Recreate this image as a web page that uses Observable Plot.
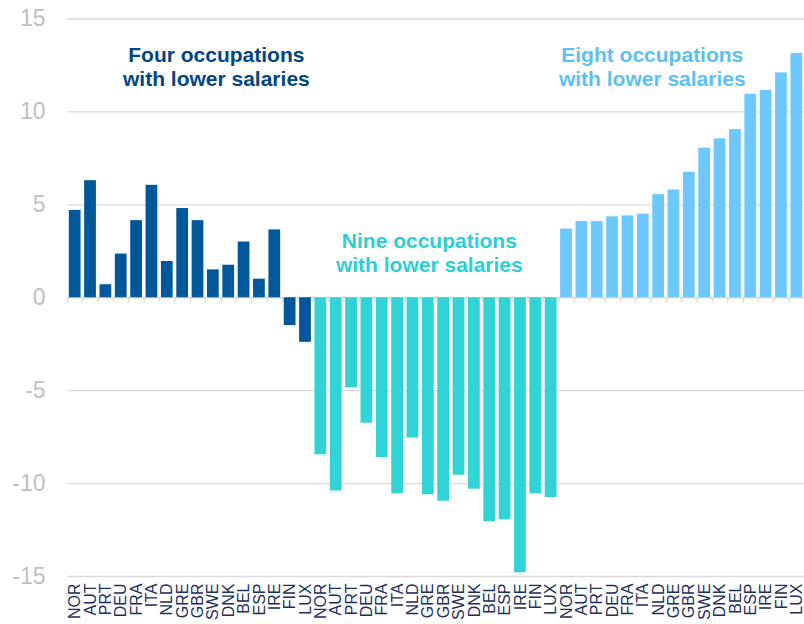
<!DOCTYPE html>
<html>
<head>
<meta charset="utf-8">
<script src="https://cdn.jsdelivr.net/npm/d3@7"></script>
<script src="https://cdn.jsdelivr.net/npm/@observablehq/plot@0.6"></script>
<style>
  html, body { margin: 0; padding: 0; background: #ffffff; }
</style>
</head>
<body>
<div id="chart"></div>
<script>
const countries = ["NOR","AUT","PRT","DEU","FRA","ITA","NLD","GRE","GBR","SWE","DNK","BEL","ESP","IRE","FIN","LUX"];
const groups = ["Four occupations", "Nine occupations", "Eight occupations"];
const fourValues  = [4.7, 6.3, 0.7, 2.35, 4.15, 6.05, 1.95, 4.8, 4.15, 1.5, 1.75, 3.0, 1.0, 3.65, -1.5, -2.4];
const nineValues  = [-8.45, -10.4, -4.85, -6.75, -8.6, -10.55, -7.55, -10.6, -10.95, -9.55, -10.3, -12.05, -11.95, -14.8, -10.55, -10.75];
const eightValues = [3.7, 4.1, 4.1, 4.35, 4.4, 4.5, 5.55, 5.8, 6.75, 8.05, 8.55, 9.05, 10.95, 11.15, 12.1, 13.15];
const yTicks = [-15, -10, -5, 0, 5, 10, 15];
const annotationTexts = [
  "Four occupations\nwith lower salaries",
  "Nine occupations\nwith lower salaries",
  "Eight occupations\nwith lower salaries"
];
const colors = ["#00589a", "#30d3d6", "#6cc8fe"];
const textColors = ["#004684", "#2ccfd3", "#5cc0f7"];

const series = [fourValues, nineValues, eightValues];
const rows = groups.flatMap((g, gi) => countries.map((c, ci) => ({
  key: `${gi}-${c}`, country: c, group: g, value: series[gi][ci]
})));
const keys = rows.map(d => d.key);

const W = 804, H = 624, ML = 67, MR = 0, MT = 18.5, MB = 48;
const step = (W - ML - MR) / keys.length;
const font = "'Liberation Sans', Arial, Helvetica, sans-serif";

const chart = Plot.plot({
  width: W, height: H,
  marginLeft: ML, marginRight: MR, marginTop: MT, marginBottom: MB,
  style: { fontFamily: font, background: "#ffffff", overflow: "visible" },
  x: { domain: keys, padding: 0, round: false, axis: null },
  y: { domain: [-15, 15], axis: null },
  color: { domain: groups, range: colors },
  marks: [
    Plot.gridY(yTicks, { stroke: "#d9d9d9", strokeOpacity: 1, strokeWidth: 1.3 }),
    Plot.ruleX(keys, { x: d => d, dx: -step / 2, y1: 0, y2: -0.28, stroke: "#d9d9d9", strokeWidth: 1.3 }),
    Plot.ruleX([keys[keys.length - 1]], { x: d => d, dx: step / 2, y1: 0, y2: -0.28, stroke: "#d9d9d9", strokeWidth: 1.3 }),
    Plot.barY(rows, { x: "key", y: "value", fill: "group", insetLeft: 1.8, insetRight: 1.8 }),
    Plot.axisY(yTicks, { tickSize: 0, tickPadding: 22, fontSize: 23, fill: "#bfbfbf", tickFormat: d => String(d), label: null }),
    Plot.axisX({ tickSize: 0, tickRotate: -90, tickPadding: 7, fontSize: 16, fill: "#1c2f5c", tickFormat: k => k.split("-")[1], label: null }),
    Plot.text([annotationTexts[0]], { x: () => "0-SWE", dx: 3, y: () => 12.47, text: d => d, fill: textColors[0], fontSize: 21, fontWeight: "bold", lineHeight: 1.14, textAnchor: "middle" }),
    Plot.text([annotationTexts[1]], { x: () => "1-GRE", dx: 1, y: () => 2.45, text: d => d, fill: textColors[1], fontSize: 21, fontWeight: "bold", lineHeight: 1.14, textAnchor: "middle" }),
    Plot.text([annotationTexts[2]], { x: () => "2-ITA", dx: 9, y: () => 12.47, text: d => d, fill: textColors[2], fontSize: 21, fontWeight: "bold", lineHeight: 1.14, textAnchor: "middle" })
  ]
});
document.getElementById("chart").appendChild(chart);
</script>
</body>
</html>
